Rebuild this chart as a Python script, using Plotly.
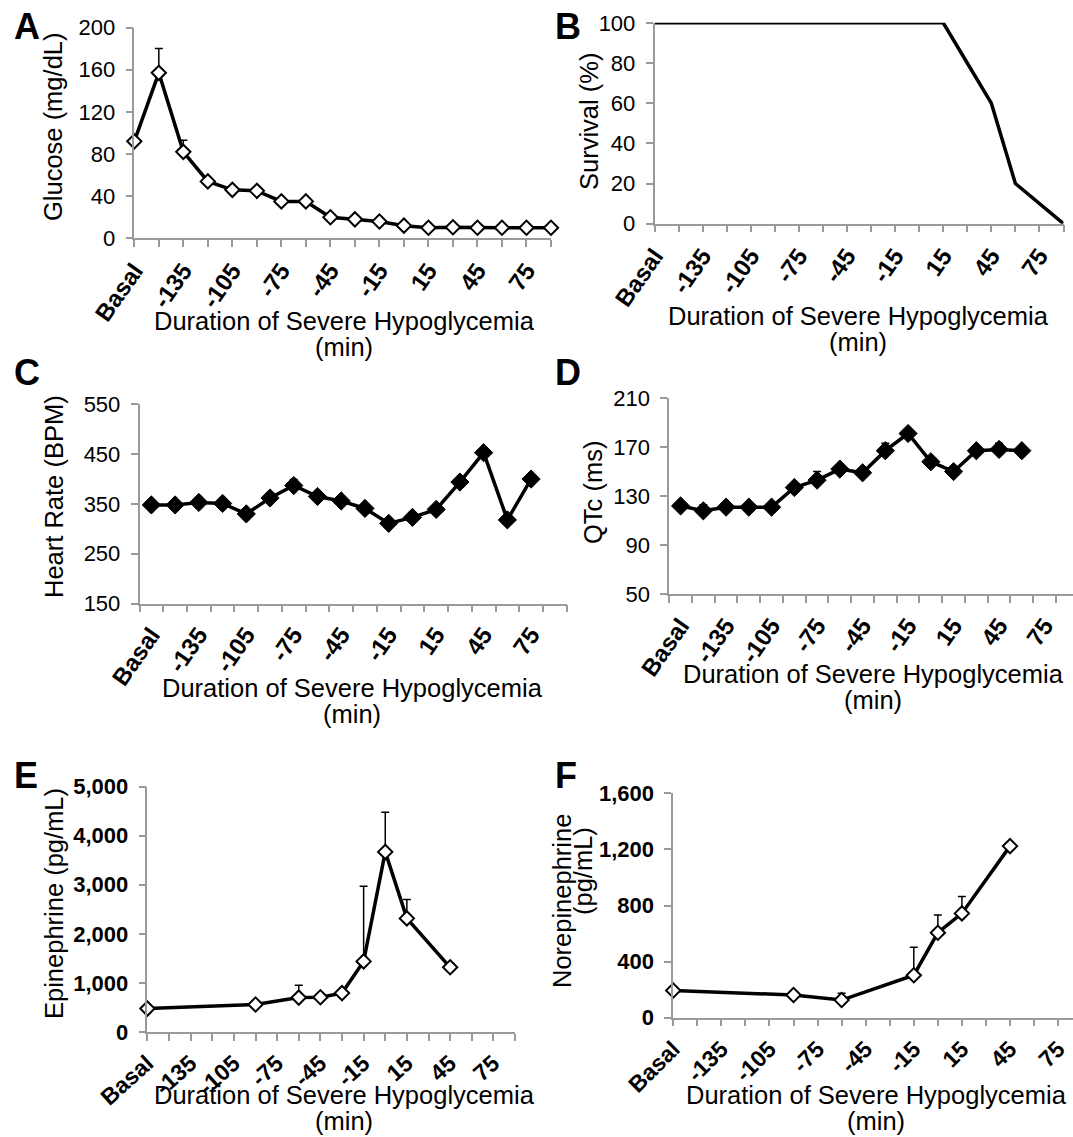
import plotly.graph_objects as go

W, H = 1073, 1137

# ---------------- data ----------------
cats = ["Basal", "-150", "-135", "-120", "-105", "-90", "-75", "-60", "-45",
        "-30", "-15", "0", "15", "30", "45", "60", "75", "90"]

glucose = [92, 157, 82, 54, 46, 45, 35, 35, 20, 18, 16, 12, 10, 10.5, 10, 10, 10, 10]
glucose_err = [0, 23, 11, 0, 0, 0, 0, 0, 0, 0, 0, 0, 0, 0, 0, 0, 0, 0]

survival = [100, 100, 100, 100, 100, 100, 100, 100, 100, 100, 100, 100, 100, 80, 60, 20, 10, 0]

heart_rate = [348, 348, 353, 351, 330, 362, 387, 365, 356, 341, 311, 323, 339, 394, 453, 318, 400, None]
heart_rate_err = [0, 0, 0, 0, 0, 0, 12, 0, 0, 0, 0, 0, 0, 0, 0, 0, 6, None]

qtc = [122, 118, 121, 121, 121, 137, 143, 152, 149, 167, 181, 158, 150, 167, 168, 167, None, None]
qtc_err = [0, 5, 0, 0, 0, 0, 7, 3, 0, 6, 0, 0, 0, 0, 5, 0, None, None]

epinephrine = [477, None, None, None, None, 561, None, 701, 708, 792, 1438, 3668, 2314, None, 1318, None, None, None]
epinephrine_err = [0, None, None, None, None, 0, None, 253, 0, 0, 1528, 806, 386, None, 0, None, None, None]

norepinephrine = [194, None, None, None, None, 162, None, 126, None, None, 303, 606, 744, None, 1224, None, None, None]
norepinephrine_err = [0, None, None, None, None, 0, None, 49, None, None, 199, 126, 121, None, 0, None, None, None]

x_title = ["Duration of Severe Hypoglycemia", "(min)"]

FONT = "Liberation Sans, Arial, sans-serif"
GREY = "#9a9a9a"


def fx(px):
    return px / W


def fy(py):
    return 1 - py / H


idx = list(range(len(cats)))
label_text = [c if i % 2 == 0 else "" for i, c in enumerate(cats)]

panels = [
    dict(letter="A", lx=12, ly=4, x0=134.3, x1=551, ytop=27.5, ybot=238.3, xr=[0, 17], yr=[0, 200], dtick=40,
         between=False, y=glucose, err=glucose_err, open=True, markers=True, fmt="", ybold=False,
         xangle=-55, xfs=24,
         ytitle=[("Glucose (mg/dL)", 53, 127)], xtx=344, xty=(321, 347)),
    dict(letter="B", lx=553, ly=4, x0=654.5, x1=1063.5, ytop=22.8, ybot=223.7, xr=[0, 17], yr=[0, 100], dtick=20,
         between=False, y=survival, err=None, open=False, markers=False, fmt="", ybold=False,
         xangle=-55, xfs=24,
         ytitle=[("Survival (%)", 589, 122)], xtx=858, xty=(316, 342)),
    dict(letter="C", lx=12, ly=350, x0=139.5, x1=566.7, ytop=404.4, ybot=603.5, xr=[-0.5, 17.5], yr=[150, 550], dtick=100,
         between=True, y=heart_rate, err=heart_rate_err, open=False, markers=True, fmt="", ybold=False,
         xangle=-55, xfs=24,
         ytitle=[("Heart Rate (BPM)", 54, 497)], xtx=352, xty=(688, 714)),
    dict(letter="D", lx=553, ly=350, x0=669.2, x1=1073, ytop=397.9, ybot=594.3,
         xr=[-0.5, -0.5 + (1073 - 669.2) / 22.75], yr=[50, 210], dtick=40,
         between=True, y=qtc, err=qtc_err, open=False, markers=True, fmt="", ybold=False,
         xangle=-55, xfs=24,
         ytitle=[("QTc (ms)", 593, 493)], xtx=873, xty=(674, 700)),
    dict(letter="E", lx=12, ly=753, x0=147.4, x1=515, ytop=786.5, ybot=1032, xr=[0, 17], yr=[0, 5000], dtick=1000,
         between=False, y=epinephrine, err=epinephrine_err, open=True, markers=True, fmt=",", ybold=True,
         xangle=-42, xfs=23,
         ytitle=[("Epinephrine (pg/mL)", 54, 904)], xtx=344, xty=(1095, 1121)),
    dict(letter="F", lx=553, ly=753, x0=673.2, x1=1073, ytop=793.4, ybot=1017.7,
         xr=[0, (1073 - 673.2) / 24.06], yr=[0, 1600], dtick=400,
         between=False, y=norepinephrine, err=norepinephrine_err, open=True, markers=True, fmt=",", ybold=True,
         xangle=-45, xfs=23,
         ytitle=[("Norepinephrine", 562, 901), ("(pg/mL)", 583, 871)], xtx=876, xty=(1095, 1121)),
]

fig = go.Figure()
annotations = []
layout = dict(width=W, height=H, margin=dict(l=0, r=0, t=0, b=0), showlegend=False,
              plot_bgcolor="white", paper_bgcolor="white", font=dict(family=FONT, color="black"))

for k, p in enumerate(panels, start=1):
    xa = "x" if k == 1 else f"x{k}"
    ya = "y" if k == 1 else f"y{k}"
    xkey = "xaxis" if k == 1 else f"xaxis{k}"
    ykey = "yaxis" if k == 1 else f"yaxis{k}"

    if p["err"] is not None:
        fig.add_trace(go.Scatter(
            x=idx, y=p["y"], xaxis=xa, yaxis=ya, mode="markers", cliponaxis=False,
            marker=dict(size=1, color="rgba(0,0,0,0)"),
            error_y=dict(type="data", symmetric=False, array=p["err"],
                         arrayminus=[0 if e is not None else None for e in p["err"]],
                         color="black", thickness=1.5, width=4),
            hoverinfo="skip"))

    if p["markers"]:
        if p["open"]:
            marker = dict(symbol="diamond", size=11, color="white", line=dict(color="black", width=2))
        else:
            marker = dict(symbol="diamond", size=14, color="black", line=dict(color="black", width=1))
        mode = "lines+markers"
    else:
        marker = None
        mode = "lines"
    fig.add_trace(go.Scatter(
        x=idx, y=p["y"], xaxis=xa, yaxis=ya, mode=mode, connectgaps=True, cliponaxis=False,
        line=dict(color="black", width=3.5), marker=marker))

    xax = dict(domain=[fx(p["x0"]), fx(p["x1"])], range=p["xr"], anchor=ya, automargin=False,
               showline=True, linecolor=GREY, linewidth=1.5, showgrid=False, zeroline=False,
               tickangle=p["xangle"],
               tickfont=dict(family=FONT, size=p["xfs"], weight="bold", color="black"),
               fixedrange=True)
    if p["between"]:
        xax.update(tickmode="array", tickvals=idx[::2], ticktext=cats[::2], ticks="", ticklabelstandoff=6,
                   minor=dict(tickmode="array", tickvals=[i - 0.5 for i in range(len(cats) + 1)],
                              ticks="outside", ticklen=7, tickcolor=GREY, tickwidth=1.5))
    else:
        xax.update(tickmode="array", tickvals=idx, ticktext=label_text, ticks="outside", ticklabelstandoff=0,
                   ticklen=7, tickcolor=GREY, tickwidth=1.5)
    layout[xkey] = xax

    yax = dict(domain=[fy(p["ybot"]), fy(p["ytop"])], range=p["yr"], anchor=xa, automargin=False,
               showline=True, linecolor=GREY, linewidth=1.5, showgrid=False, zeroline=False,
               tickmode="linear", tick0=p["yr"][0], dtick=p["dtick"], ticks="outside", ticklen=7,
               tickcolor=GREY, tickwidth=1.5, tickformat=p["fmt"], ticklabelstandoff=6,
               tickfont=dict(family=FONT, size=22, color="black", weight="bold" if p["ybold"] else "normal"),
               fixedrange=True)
    layout[ykey] = yax

    annotations.append(dict(text=f"<b>{p['letter']}</b>", x=fx(p["lx"]), y=fy(p["ly"]), xref="paper", yref="paper",
                            xanchor="left", yanchor="top", showarrow=False,
                            font=dict(family=FONT, size=36, color="black")))
    for txt, tx, ty in p["ytitle"]:
        annotations.append(dict(text=txt, x=fx(tx), y=fy(ty), xref="paper", yref="paper",
                                xanchor="center", yanchor="middle", textangle=-90, showarrow=False,
                                font=dict(family=FONT, size=25.5, color="black")))
    for txt, ty in zip(x_title, p["xty"]):
        annotations.append(dict(text=txt, x=fx(p["xtx"]), y=fy(ty),
                                xref="paper", yref="paper", xanchor="center", yanchor="middle", showarrow=False,
                                font=dict(family=FONT, size=25.5, color="black")))

layout["annotations"] = annotations
fig.update_layout(**layout)
fig.write_html("out.html")
